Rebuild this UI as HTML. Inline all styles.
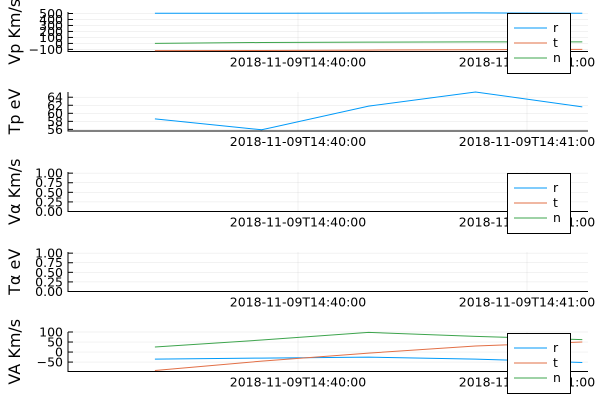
<!DOCTYPE html>
<html><head><meta charset="utf-8">
<style>
body{margin:0;background:#fff;font-family:"DejaVu Sans","Liberation Sans",sans-serif;}
svg{display:block}
</style></head>
<body>
<svg id="c" width="600" height="400"></svg>
<script>
// time of samples, seconds relative to 14:40:00
const times = [-37.5, -9.5, 18.5, 46.5, 74.5];
const vpR = [505, 505, 507, 510, 505];
const vpT = [-120, -118, -112, -105, -100];
const vpN = [0, 15, 22, 25, 25];
const tp = [58.6, 55.9, 61.8, 65.3, 61.6];
const vaR = [-35, -30, -25, -35, -52];
const vaT = [-92, -45, -5, 30, 50];
const vaN = [25, 60, 98, 78, 62];
const xTickSecs = [0, 60];
const xTickLabels = ["2018-11-09T14:40:00", "2018-11-09T14:41:00"];
const vpTicks = [-100, 0, 100, 200, 300, 400, 500];
const tpTicks = [56, 58, 60, 62, 64];
const unitTicks = [0, 0.25, 0.5, 0.75, 1.0];
const unitTickLabels = ["0.00", "0.25", "0.50", "0.75", "1.00"];
const vaTicks = [-50, 0, 50, 100];
const vaTickLabels = ["−50", "0", "50", "100"];
const vpTickLabels = ["−100", "0", "100", "200", "300", "400", "500"];

const NS = "http://www.w3.org/2000/svg";
const svg = document.getElementById("c");
const X0 = 68, X1 = 588;
function xs(t){ return 298 + t * (527 - 298) / 60; }
function mk(tag, attrs, parent){
  const e = document.createElementNS(NS, tag);
  for (const k in attrs) e.setAttribute(k, attrs[k]);
  (parent || svg).appendChild(e);
  return e;
}
const COL = {r:"#009af9", t:"#e26f46", n:"#3da44d"};

function panel(name, top, bot, ymin, ymax, ticks, tickLabels, ylabel, series, legend){
  const g = mk("g", {});
  
  
  const ys = v => bot - (v - ymin) * (bot - top) / (ymax - ymin);
  xTickSecs.forEach(s => {
    const l = mk("line", {x1:xs(s), x2:xs(s), y1:top, y2:bot, stroke:"#000", "stroke-opacity":0.1, "stroke-width":0.5}, g);
    
    
  });
  ticks.forEach((v,i) => {
    const y = ys(v);
    const l = mk("line", {x1:X0, x2:X1, y1:y, y2:y, stroke:"#000", "stroke-opacity":0.1, "stroke-width":0.5}, g);
    
    
    const tk = mk("line", {x1:X0, x2:X0+5, y1:y, y2:y, stroke:"#000", "stroke-width":1}, g);
    
    
    const tx = mk("text", {x:X0-5, y:y+4.5, "text-anchor":"end", "font-size":12.5, fill:"#000"}, g);
    tx.textContent = tickLabels[i];
    
    
  });
  const ax = mk("path", {d:`M${X0} ${top} V${bot} H${X1}`, fill:"none", stroke:"#000", "stroke-width":1}, g);
  
  
  xTickSecs.forEach((s,i) => {
    const tx = mk("text", {x:xs(s), y:bot+15, "text-anchor":"middle", "font-size":12.5, fill:"#000"}, g);
    tx.textContent = xTickLabels[i];
    
    
  });
  const yl = mk("text", {x:0, y:0, transform:`translate(20 ${(top+bot)/2}) rotate(-90)`, "text-anchor":"middle", "font-size":16, fill:"#000"}, g);
  yl.textContent = ylabel;
  
  
  series.forEach(s => {
    const d = s.vals.map((v,i) => (i ? "L" : "M") + xs(times[i]).toFixed(1) + " " + ys(Math.max(ymin, v)).toFixed(1)).join(" ");
    const p = mk("path", {d, fill:"none", stroke:COL[s.k], "stroke-width":1}, g);
    
    
  });
  if (legend){
    const lg = mk("g", {}, g);
    
    
    mk("rect", {x:507.5, y:top+1.5, width:63, height:60, fill:"#fff", stroke:"#000", "stroke-width":1}, lg);
    ["r","t","n"].forEach((k,i) => {
      const y = top + 16 + i*15;
      const l = mk("line", {x1:514, x2:547, y1:y, y2:y, stroke:COL[k], "stroke-width":1}, lg);
      
      
      const t = mk("text", {x:553, y:y+4, "font-size":12.5, fill:"#000"}, lg);
      t.textContent = k;
      
      
    });
  }
}
panel("vp", 12, 51.5, -135, 525, vpTicks, vpTickLabels, "Vp Km/s",
  [{k:"r", vals:vpR},{k:"t", vals:vpT},{k:"n", vals:vpN}], true);
panel("tp", 92, 131, 55.6, 65.3, tpTicks, tpTicks.map(String), "Tp eV", [{k:"r", vals:tp}], false);
panel("valpha", 172, 211.5, 0, 1.03, unitTicks, unitTickLabels, "Vα Km/s", [], true);
panel("talpha", 252, 291.5, 0, 1.03, unitTicks, unitTickLabels, "Tα eV", [], false);
panel("va", 332, 371.5, -97, 100, vaTicks, vaTickLabels, "VA Km/s",
  [{k:"r", vals:vaR},{k:"t", vals:vaT},{k:"n", vals:vaN}], true);
</script>
</body></html>
